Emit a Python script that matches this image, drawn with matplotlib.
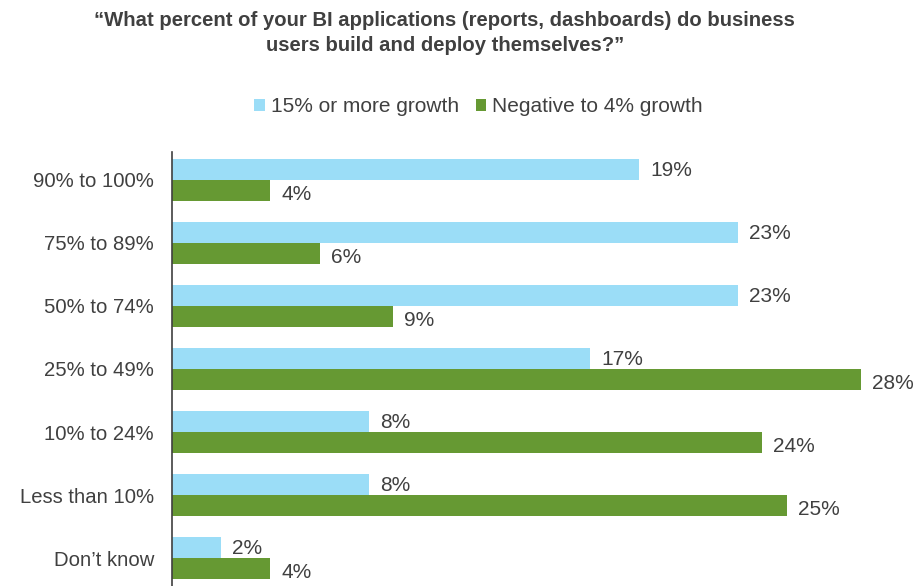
import matplotlib
matplotlib.use("Agg")
import matplotlib.pyplot as plt
import numpy as np

categories = ["90% to 100%", "75% to 89%", "50% to 74%", "25% to 49%",
              "10% to 24%", "Less than 10%", "Don\u2019t know"]
high_growth = [19, 23, 23, 17, 8, 8, 2]
low_growth = [4, 6, 9, 28, 24, 25, 4]
series_names = ["15% or more growth", "Negative to 4% growth"]

plt.rcParams['font.family'] = ['Liberation Sans', 'DejaVu Sans']
TXT = "#404040"
BLUE = "#9BDDF7"
GREEN = "#669933"

fig = plt.figure(figsize=(9.17, 5.86), dpi=100)
W, H = 917, 586
ax = fig.add_axes([172 / W, 0, (910 - 172) / W, (586 - 152) / H])

y = np.arange(len(categories))
h = 0.333
ax.barh(y - h / 2, high_growth, height=h, color=BLUE, label=series_names[0])
ax.barh(y + h / 2, low_growth, height=h, color=GREEN, label=series_names[1])

for yi, v in zip(y, high_growth):
    ax.text(v + 0.45, yi - h / 2 + 0.02, f"{v}%", va="center", ha="left", fontsize=15, color=TXT)
for yi, v in zip(y, low_growth):
    ax.text(v + 0.45, yi + h / 2 + 0.06, f"{v}%", va="center", ha="left", fontsize=15, color=TXT)

ax.set_xlim(0, 30)
ax.set_ylim(6.444, -0.444)
ax.set_yticks(y)
ax.set_yticklabels(categories, fontsize=14.6, color=TXT)
ax.tick_params(axis="y", length=0, pad=19 - 6)
ax.set_xticks([])
for s in ["top", "right", "bottom"]:
    ax.spines[s].set_visible(False)
ax.spines["left"].set_color("#404040")
ax.spines["left"].set_linewidth(1.2)

fig.text(0.485, 1 - 33 / H, "\u201cWhat percent of your BI applications (reports, dashboards) do business\nusers build and deploy themselves?\u201d",
         ha="center", va="center", fontsize=14.6, fontweight="bold", color=TXT, linespacing=1.35)

leg = fig.legend(loc="center", bbox_to_anchor=(0.522, 1 - 107 / H), ncol=2, frameon=False,
                 fontsize=15, handlelength=0.5, handleheight=0.5, handletextpad=0.3,
                 columnspacing=0.8, labelcolor=TXT)

fig.savefig("out.png", dpi=100)
